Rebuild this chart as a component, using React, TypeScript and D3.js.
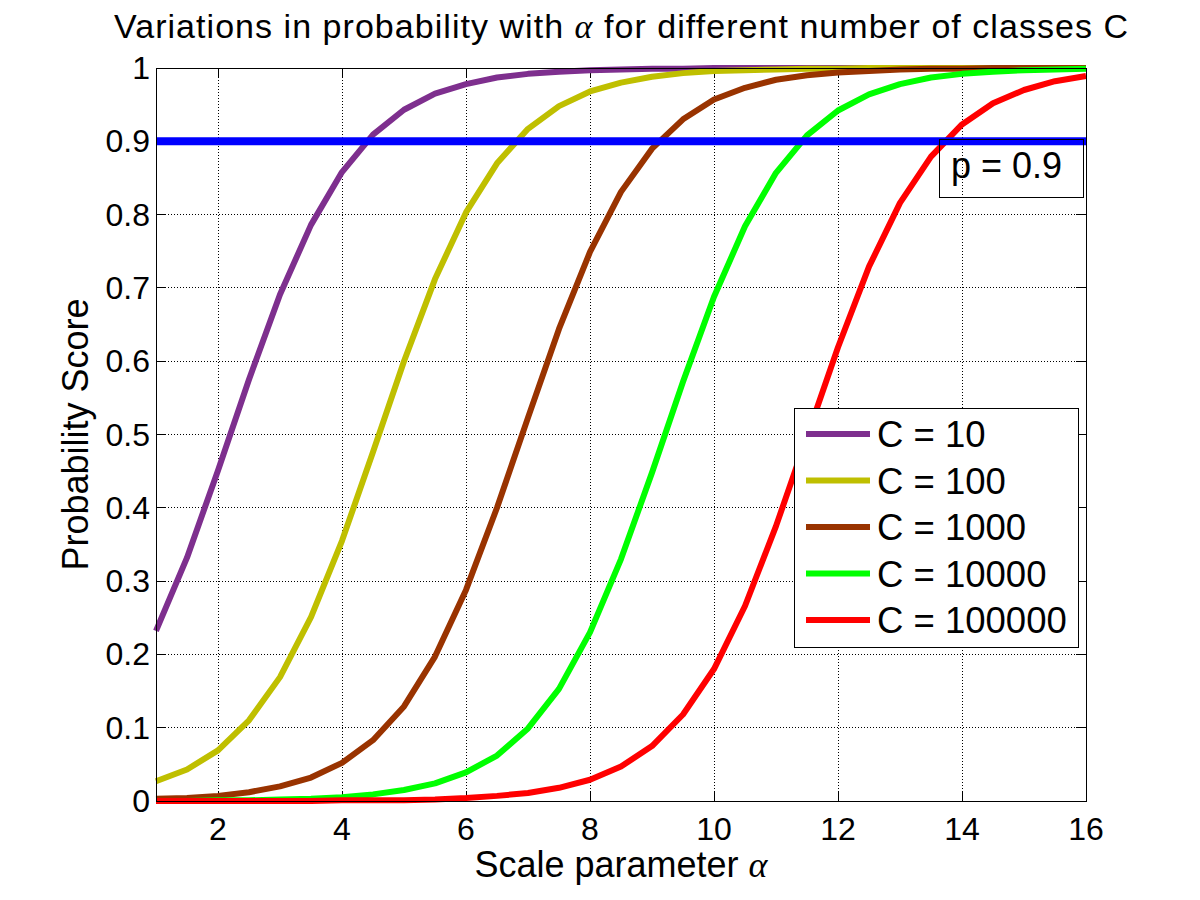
import React from "react";
import * as d3 from "d3";

const alpha = [1, 1.5, 2, 2.5, 3, 3.5, 4, 4.5, 5, 5.5, 6, 6.5, 7, 7.5, 8, 8.5, 9, 9.5, 10, 10.5, 11, 11.5, 12, 12.5, 13, 13.5, 14, 14.5, 15, 15.5, 16];

const c10 = [0.232, 0.332, 0.451, 0.575, 0.691, 0.786, 0.858, 0.909, 0.943, 0.965, 0.978, 0.987, 0.992, 0.995, 0.997, 0.998, 0.999, 0.999, 1, 1, 1, 1, 1, 1, 1, 1, 1, 1, 1, 1, 1];
const c100 = [0.027, 0.043, 0.069, 0.11, 0.169, 0.251, 0.355, 0.476, 0.6, 0.712, 0.803, 0.87, 0.917, 0.948, 0.968, 0.98, 0.988, 0.993, 0.996, 0.997, 0.998, 0.999, 0.999, 1, 1, 1, 1, 1, 1, 1, 1];
const c1000 = [0.003, 0.004, 0.007, 0.012, 0.02, 0.032, 0.052, 0.083, 0.129, 0.197, 0.288, 0.4, 0.523, 0.644, 0.749, 0.831, 0.89, 0.93, 0.957, 0.973, 0.984, 0.99, 0.994, 0.996, 0.998, 0.999, 0.999, 1, 1, 1, 1];
const c10000 = [0, 0, 0.001, 0.001, 0.002, 0.003, 0.005, 0.009, 0.015, 0.024, 0.039, 0.062, 0.099, 0.153, 0.23, 0.33, 0.448, 0.572, 0.688, 0.784, 0.857, 0.908, 0.942, 0.964, 0.978, 0.987, 0.992, 0.995, 0.997, 0.998, 0.999];
const c100000 = [0, 0, 0, 0, 0, 0, 0.001, 0.001, 0.001, 0.002, 0.004, 0.007, 0.011, 0.018, 0.029, 0.047, 0.075, 0.118, 0.18, 0.266, 0.375, 0.497, 0.619, 0.729, 0.816, 0.879, 0.923, 0.952, 0.97, 0.982, 0.989];

const seriesNames = ["C = 10", "C = 100", "C = 1000", "C = 10000", "C = 100000"];
const seriesValues = [c10, c100, c1000, c10000, c100000];
const seriesColors = ["#7E2F8E", "#BFBF00", "#993300", "#00FF00", "#FF0000"];

const xTicks = [2, 4, 6, 8, 10, 12, 14, 16];
const yTicks = [0, 0.1, 0.2, 0.3, 0.4, 0.5, 0.6, 0.7, 0.8, 0.9, 1];
const threshold = 0.9;

const W = 1200;
const H = 900;
const plot = { left: 156, right: 1086, top: 68, bottom: 801 };
const sans = "'Liberation Sans', Arial, Helvetica, sans-serif";
const serif = "'Liberation Serif', 'Times New Roman', serif";

export default function App() {
	const x = d3.scaleLinear().domain([1, 16]).range([plot.left, plot.right]);
	const y = d3.scaleLinear().domain([0, 1]).range([plot.bottom, plot.top]);

	const line = d3
		.line<number>()
		.x((_, i) => x(alpha[i]))
		.y((d) => y(d));

	const tick = 10;
	const legend = { x: 794, y: 408, w: 284, h: 239, row: 46.5 };

	return (
		<div style={{ position: "absolute", left: 0, top: 0, background: "#fff" }}>
			<svg width={W} height={H} style={{ display: "block", background: "#fff" }}>
				<rect x={0} y={0} width={W} height={H} fill="#fff" />

				{/* grid */}
				<g stroke="#000" strokeWidth={1} strokeDasharray="1,2" shapeRendering="crispEdges">
					{xTicks.map((t) => (
						<line key={"gx" + t} x1={x(t)} x2={x(t)} y1={plot.top} y2={plot.bottom} />
					))}
					{yTicks.slice(1).map((t) => (
						<line key={"gy" + t} x1={plot.left} x2={plot.right} y1={y(t)} y2={y(t)} />
					))}
				</g>

				{/* ticks, inward on all four sides */}
				<g stroke="#000" strokeWidth={1} shapeRendering="crispEdges">
					{xTicks.map((t) => (
						<g key={"tx" + t}>
							<line x1={x(t)} x2={x(t)} y1={plot.bottom} y2={plot.bottom - tick} />
							<line x1={x(t)} x2={x(t)} y1={plot.top} y2={plot.top + tick} />
						</g>
					))}
					{yTicks.map((t) => (
						<g key={"ty" + t}>
							<line x1={plot.left} x2={plot.left + tick} y1={y(t)} y2={y(t)} />
							<line x1={plot.right} x2={plot.right - tick} y1={y(t)} y2={y(t)} />
						</g>
					))}
				</g>

				{/* curves */}
				<g fill="none" strokeWidth={6} strokeLinejoin="round">
					{seriesValues.map((vals, i) => (
						<path key={seriesNames[i]} d={line(vals) ?? ""} stroke={seriesColors[i]} />
					))}
				</g>

				{/* p = 0.9 threshold */}
				<line x1={plot.left} x2={plot.right} y1={y(threshold)} y2={y(threshold)} stroke="#0000FF" strokeWidth={8} />

				{/* axes box */}
				<rect
					x={plot.left}
					y={plot.top}
					width={plot.right - plot.left}
					height={plot.bottom - plot.top}
					fill="none"
					stroke="#000"
					strokeWidth={1}
					shapeRendering="crispEdges"
				/>

				{/* tick labels */}
				<g fontFamily={sans} fontSize={32} fill="#000">
					{xTicks.map((t) => (
						<text key={"lx" + t} x={x(t)} y={840} textAnchor="middle">
							{t}
						</text>
					))}
					{yTicks.map((t) => (
						<text key={"ly" + t} x={150} y={y(t) + 11} textAnchor="end">
							{t}
						</text>
					))}
				</g>

				{/* annotation box */}
				<rect x={939} y={139} width={144} height={58} fill="none" stroke="#000" strokeWidth={1} shapeRendering="crispEdges" />
				<text x={951} y={178} fontFamily={sans} fontSize={36} fill="#000">
					p = 0.9
				</text>

				{/* legend */}
				<rect x={legend.x} y={legend.y} width={legend.w} height={legend.h} fill="#fff" stroke="#000" strokeWidth={1} shapeRendering="crispEdges" />
				{seriesNames.map((name, i) => {
					const cy = 434 + i * legend.row;
					return (
						<g key={"lg" + name}>
							<line x1={806} x2={870} y1={cy} y2={cy} stroke={seriesColors[i]} strokeWidth={6} />
							<text x={877} y={cy + 13} fontFamily={sans} fontSize={36.5} fill="#000">
								{name}
							</text>
						</g>
					);
				})}

				{/* title and axis labels */}
				<text
					x={(plot.left + plot.right) / 2}
					y={38}
					textAnchor="middle"
					fontFamily={sans}
					fontSize={34}
					textLength={1014}
					lengthAdjust="spacing"
					fill="#000"
				>
					Variations in probability with <tspan fontFamily={serif} fontStyle="italic">α</tspan> for different number of classes C
				</text>
				<text x={(plot.left + plot.right) / 2} y={877} textAnchor="middle" fontFamily={sans} fontSize={36} fill="#000">
					Scale parameter <tspan fontFamily={serif} fontStyle="italic">α</tspan>
				</text>
				<text
					transform={`translate(88,${(plot.top + plot.bottom) / 2}) rotate(-90)`}
					textAnchor="middle"
					fontFamily={sans}
					fontSize={36}
					fill="#000"
				>
					Probability Score
				</text>
			</svg>
		</div>
	);
}
